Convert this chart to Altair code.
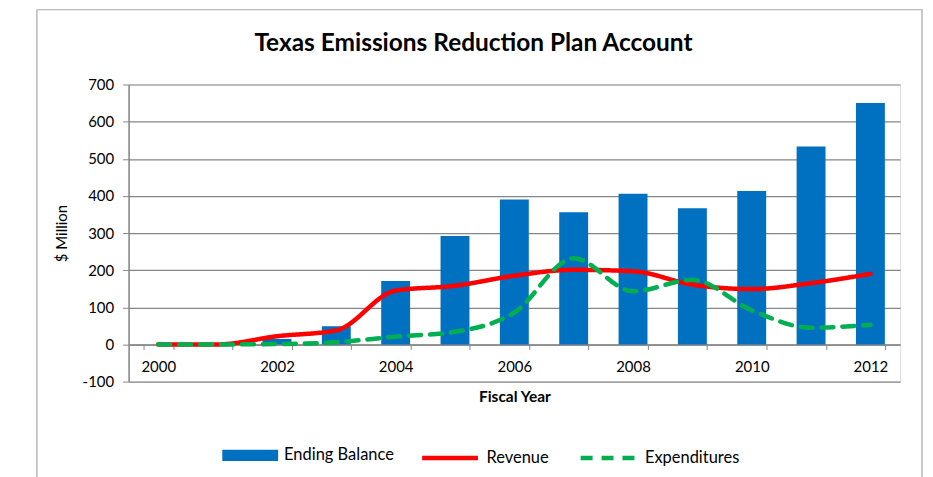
import altair as alt
import pandas as pd

years = [str(y) for y in range(2000, 2013)]
ending_balance = [0, 0, 15, 49, 171, 292, 390, 356, 406, 367, 413, 533, 650]
revenue = [0, 0, 22, 38, 145, 158, 185, 201, 197, 161, 149, 165, 190]
expenditures = [0, 0, 1, 6, 21, 34, 86, 232, 143, 174, 92, 45, 53]

bars_df = pd.DataFrame({"year": years, "value": ending_balance, "series": "Ending Balance"})
lines_df = pd.concat([
    pd.DataFrame({"year": years, "value": revenue, "series": "Revenue"}),
    pd.DataFrame({"year": years, "value": expenditures, "series": "Expenditures"}),
])

FONT = "Lato"
GRAY = "#868686"
W, H = 774, 298

x_scale = alt.Scale(paddingInner=0.5, paddingOuter=0.25)
x_axis = alt.Axis(
    title="Fiscal Year",
    labelAngle=0,
    labelExpr="toNumber(datum.value) % 2 == 0 ? datum.value : ''",
    tickBand="extent",
    tickSize=5,
    tickColor=GRAY,
    domainColor=GRAY,
    domainWidth=1.5,
    labelPadding=10,
    titlePadding=15,
    offset=-37.25,
    grid=False,
    labelOverlap=False,
    labelFontSize=15,
    titleFontSize=15.5,
    titleFontWeight="bold",
)

y_scale = alt.Scale(domain=[-100, 700], nice=False)
y_axis = alt.Axis(
    title="$ Million",
    values=list(range(-100, 701, 100)),
    tickCount=20,
    labelExpr="datum.value < 0 ? '-' + abs(datum.value) : '' + datum.value",
    labelOverlap=False,
    grid=True,
    gridColor=GRAY,
    gridWidth=1.2,
    domainColor=GRAY,
    domainWidth=1.5,
    tickColor=GRAY,
    tickSize=6,
    labelPadding=9,
    titlePadding=13,
    labelFontSize=15,
    titleFontSize=15,
    titleFontWeight="normal",
)

line_legend = alt.Legend(
    title=None,
    orient="none",
    legendX=292,
    legendY=344,
    direction="horizontal",
    symbolType="stroke",
    symbolSize=3136,
    symbolStrokeWidth=4.5,
    labelOffset=6,
    columnPadding=22,
)

bars = alt.Chart(bars_df).mark_bar(size=29).encode(
    x=alt.X("year:O", scale=x_scale, axis=x_axis),
    y=alt.Y("value:Q", scale=y_scale, axis=y_axis),
    fill=alt.Fill(
        "series:N",
        scale=alt.Scale(domain=["Ending Balance"], range=["#0070C0"]),
        legend=alt.Legend(
            title=None,
            orient="none",
            legendX=94,
            legendY=344,
            symbolType="M-1,-0.2H1V0.2H-1Z",
            symbolSize=3136,
            symbolStrokeWidth=0,
            labelOffset=6,
        ),
    ),
)

lines = alt.Chart(lines_df).mark_line(interpolate="monotone", strokeWidth=4.5, strokeCap="round").encode(
    x=alt.X("year:O", scale=x_scale),
    y=alt.Y("value:Q", scale=y_scale),
    stroke=alt.Stroke(
        "series:N",
        scale=alt.Scale(domain=["Revenue", "Expenditures"], range=["#FF0000", "#00B050"]),
        legend=line_legend,
    ),
    strokeDash=alt.StrokeDash(
        "series:N",
        scale=alt.Scale(domain=["Revenue", "Expenditures"], range=[[1, 0], [12, 9]]),
        legend=line_legend,
    ),
    order=alt.Order("series:N", sort="descending"),
)

border = alt.Chart(pd.DataFrame({"a": [0]})).mark_rect(
    fill=None, stroke="#A6A6A6", strokeWidth=1.2
).encode(
    x=alt.value(-92), x2=alt.value(796), y=alt.value(-75), y2=alt.value(460)
)

chart = alt.layer(border, bars, lines).properties(
    width=W,
    height=H,
    padding={"left": 121, "top": 76, "right": 25, "bottom": 100},
    autosize=alt.AutoSizeParams(type="none"),
    title=alt.TitleParams(
        "Texas Emissions Reduction Plan Account",
        font=FONT,
        fontSize=24.5,
        fontWeight="bold",
        color="#000000",
        anchor="middle",
        dx=-41,
        offset=-47,
    ),
).configure_view(stroke=None).configure(background="white").configure_axis(
    labelFont=FONT, titleFont=FONT, labelColor="#000000", titleColor="#000000"
).configure_axisY(titleFontWeight="normal").configure_legend(
    labelFont=FONT, labelFontSize=16.5, labelColor="#000000", labelFontWeight="normal"
)

chart.save("out.html", embed_options={"renderer": "svg", "actions": False})
